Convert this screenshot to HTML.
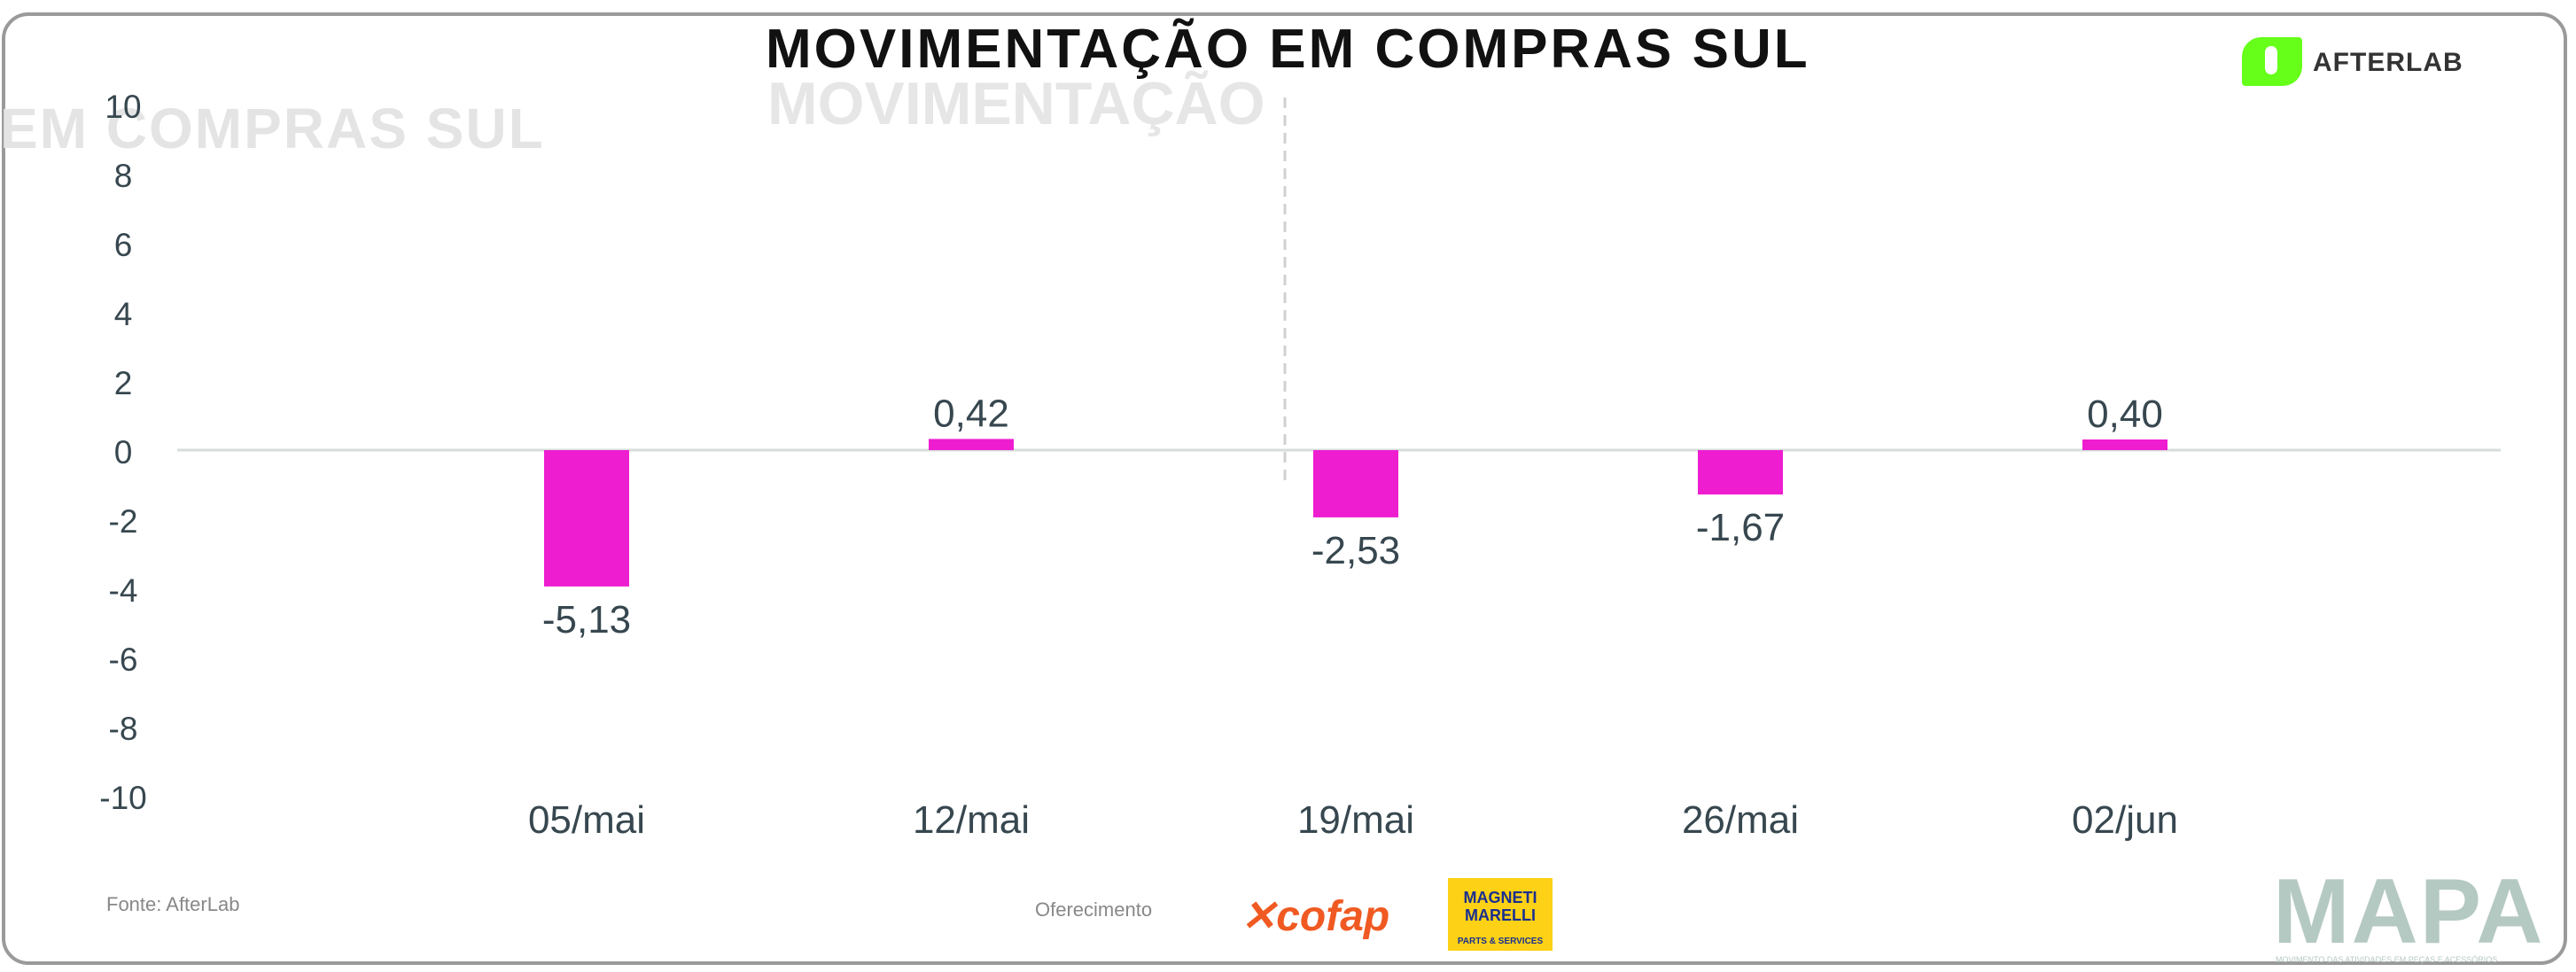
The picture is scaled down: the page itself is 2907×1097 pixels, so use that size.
<!DOCTYPE html>
<html><head><meta charset="utf-8">
<style>
html,body{margin:0;padding:0;background:#fff;}
body{width:2907px;height:1097px;overflow:hidden;position:relative;font-family:"Liberation Sans",sans-serif;}
.abs{position:absolute;}
</style></head>
<body>
<div class="abs" style="left:2px;top:14px;width:2895px;height:1075px;border:4px solid #9a9a9a;border-radius:30px;box-sizing:border-box;"></div>
<div class="abs" style="left:0;top:108px;font-size:64px;font-weight:bold;color:#e4e4e4;white-space:nowrap;letter-spacing:2px;">EM COMPRAS SUL</div>
<div class="abs" style="left:866px;top:78px;font-size:68px;font-weight:bold;color:#e6e6e6;white-space:nowrap;">MOVIMENTAÇÃO</div>
<div class="abs" style="left:864px;top:20px;font-size:62px;font-weight:bold;color:#111;white-space:nowrap;letter-spacing:3px;">MOVIMENTAÇÃO EM COMPRAS SUL</div>
<div class="abs" style="left:2530px;top:42px;width:310px;height:55px;">
  <div style="position:absolute;left:0;top:0;width:68px;height:55px;background:#66ff1a;border-radius:22px 4px 22px 4px;"></div>
  <div style="position:absolute;left:26px;top:10px;width:14px;height:32px;background:#fff;border-radius:8px;"></div>
  <div style="position:absolute;left:80px;top:12px;font-size:30px;font-weight:bold;color:#333;letter-spacing:1px;">AFTERLAB</div>
</div>
<svg class="abs" style="left:0;top:0" width="2907" height="1097">
<g id="g"></g>
</svg>
<div class="abs" style="left:120px;top:1008px;font-size:22px;color:#888;">Fonte: AfterLab</div>
<div class="abs" style="left:1168px;top:1014px;font-size:22px;color:#888;">Oferecimento</div>
<div class="abs" style="left:1400px;top:1006px;font-size:48px;font-weight:bold;font-style:italic;color:#f05a22;">✕cofap</div>
<div class="abs" style="left:1634px;top:991px;width:118px;height:82px;background:#fcd116;text-align:center;color:#1a2f8f;font-weight:bold;">
  <div style="font-size:18px;line-height:20px;margin-top:12px;">MAGNETI<br>MARELLI</div>
  <div style="font-size:10px;margin-top:14px;">PARTS &amp; SERVICES</div>
</div>
<div class="abs" style="left:2565px;top:970px;font-size:104px;font-weight:bold;color:#b5c9c3;letter-spacing:2px;">MAPA</div>
<div class="abs" style="left:2568px;top:1078px;font-size:9px;color:#b5c9c3;">MOVIMENTO DAS ATIVIDADES EM PEÇAS E ACESSÓRIOS</div>
<script>
const categories=["05/mai","12/mai","19/mai","26/mai","02/jun"];
const values=[-5.13,0.42,-2.53,-1.67,0.40];
const valueLabels=["-5,13","0,42","-2,53","-1,67","0,40"];
const yTicks=[10,8,6,4,2,0,-2,-4,-6,-8,-10];
const NS="http://www.w3.org/2000/svg";
const g=document.getElementById('g');
const zeroY=508, tickStep=39, barScale=30;
const x0=200,x1=2822, firstX=662, stepX=434;
function tickY(v){return zeroY - v*tickStep;}
function barY(v){return zeroY - v*barScale;}
function xPos(i){return firstX + i*stepX;}
function el(t,a){const e=document.createElementNS(NS,t);for(const k in a)e.setAttribute(k,a[k]);g.appendChild(e);return e;}
const dl=el('line',{x1:1450,y1:110,x2:1450,y2:548,stroke:'#d0d0d0','stroke-width':3,'stroke-dasharray':'12 8'});


const zl=el('line',{x1:x0,y1:zeroY,x2:x1,y2:zeroY,stroke:'#d6dedb','stroke-width':3});


yTicks.forEach(v=>{
  const t=el('text',{x:139,y:tickY(v)+15,'text-anchor':'middle','font-size':37,fill:'#37474f','font-family':'Liberation Sans, sans-serif'});
  t.textContent=v;
  
  
});
categories.forEach((c,i)=>{
  const cx=xPos(i);
  const v=values[i];
  const y=Math.min(barY(v),zeroY), h=Math.abs(barY(v)-zeroY);
  const r=el('rect',{x:cx-48,y:y,width:96,height:h,fill:'#ee1dd0'});
  
  
  const ly = v<0 ? barY(v)+52 : barY(v)-14;
  const t=el('text',{x:cx,y:ly,'text-anchor':'middle','font-size':44,fill:'#37474f','font-family':'Liberation Sans, sans-serif'});
  t.textContent=valueLabels[i];
  
  
  const ct=el('text',{x:cx,y:940,'text-anchor':'middle','font-size':44,fill:'#37474f','font-family':'Liberation Sans, sans-serif'});
  ct.textContent=c;
  
  
});
</script>
</body></html>
